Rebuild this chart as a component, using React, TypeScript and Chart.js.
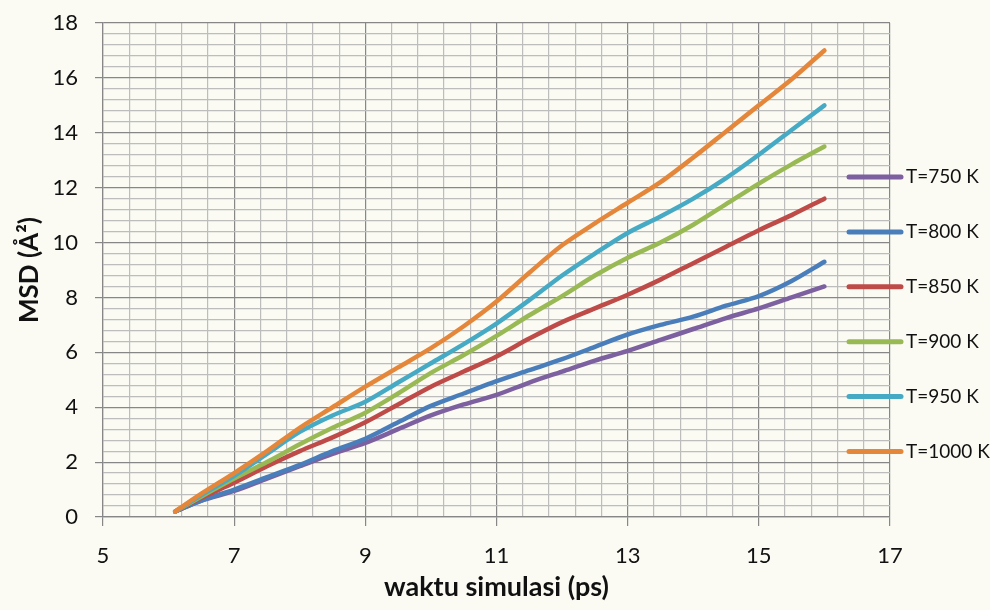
import React, { useEffect, useRef } from "react";
import { Chart, registerables } from "chart.js";

Chart.register(...registerables);

const times = [6.1, 6.5, 7, 7.5, 8, 8.5, 9, 9.5, 10, 10.5, 11, 11.5, 12, 12.5, 13, 13.5, 14, 14.5, 15, 15.5, 16];

const seriesLabels = ["T=750 K", "T=800 K", "T=850 K", "T=900 K", "T=950 K", "T=1000 K"];
const seriesColors = ["#7d60a0", "#4a7ebb", "#be4b48", "#98b954", "#46aac5", "#e5873a"];

const msd750 = [0.2, 0.6, 0.95, 1.4, 1.85, 2.3, 2.7, 3.2, 3.7, 4.1, 4.45, 4.9, 5.3, 5.7, 6.05, 6.45, 6.85, 7.25, 7.6, 8.0, 8.4];
const msd800 = [0.2, 0.6, 1.0, 1.45, 1.9, 2.4, 2.85, 3.45, 4.05, 4.5, 4.95, 5.35, 5.75, 6.2, 6.65, 7.0, 7.3, 7.7, 8.05, 8.6, 9.3];
const msd850 = [0.2, 0.7, 1.25, 1.85, 2.4, 2.9, 3.45, 4.1, 4.75, 5.3, 5.85, 6.5, 7.1, 7.6, 8.1, 8.65, 9.25, 9.85, 10.45, 11.0, 11.6];
const msd900 = [0.2, 0.75, 1.4, 2.0, 2.65, 3.25, 3.8, 4.5, 5.25, 5.9, 6.6, 7.35, 8.05, 8.8, 9.45, 10.0, 10.65, 11.4, 12.15, 12.85, 13.5];
const msd950 = [0.2, 0.8, 1.5, 2.3, 3.1, 3.7, 4.2, 4.9, 5.6, 6.3, 7.05, 7.9, 8.8, 9.6, 10.35, 10.95, 11.6, 12.35, 13.2, 14.1, 15.0];
const msd1000 = [0.2, 0.85, 1.6, 2.4, 3.25, 4.0, 4.75, 5.45, 6.15, 6.95, 7.85, 8.9, 9.9, 10.7, 11.45, 12.2, 13.1, 14.05, 15.0, 15.95, 17.0];

const xTickLabels = ["5", "7", "9", "11", "13", "15", "17"];
const yTickLabels = ["0", "2", "4", "6", "8", "10", "12", "14", "16", "18"];

const allSeries = [msd750, msd800, msd850, msd900, msd950, msd1000];

const FONT = "Lato, 'Open Sans', sans-serif";
const MAJOR = "#878787";
const MINOR = "#bdbdbd";
const TEXT = "#111111";

const isMajor = (v: number, base: number) => {
  const r = (v - base) / 2;
  return Math.abs(r - Math.round(r)) < 1e-6;
};

const bgPlugin = {
  id: "bg",
  beforeDraw(chart: any) {
    const ctx = chart.ctx;
    ctx.save();
    ctx.fillStyle = "#fbfbf4";
    ctx.fillRect(0, 0, chart.width, chart.height);
    ctx.restore();
  },
};

const legendPlugin = {
  id: "customLegend",
  afterDraw(chart: any) {
    const ctx = chart.ctx;
    ctx.save();
    chart.data.datasets.forEach((ds: any, i: number) => {
      const y = 177 + i * 54.9;
      ctx.strokeStyle = ds.borderColor;
      ctx.lineWidth = 5;
      ctx.lineCap = "round";
      ctx.beginPath();
      ctx.moveTo(849, y);
      ctx.lineTo(901, y);
      ctx.stroke();
      ctx.fillStyle = TEXT;
      ctx.font = `19px ${FONT}`;
      ctx.textBaseline = "middle";
      ctx.textAlign = "left";
      ctx.fillText(ds.label, 906, y);
    });
    ctx.restore();
  },
};

export default function App() {
  const ref = useRef<HTMLCanvasElement | null>(null);
  useEffect(() => {
    if (!ref.current) return;
    const chart = new Chart(ref.current, {
      type: "line",
      data: {
        datasets: allSeries.map((vals, i) => ({
          label: seriesLabels[i],
          data: times.map((t, j) => ({ x: t, y: vals[j] })),
          borderColor: seriesColors[i],
          backgroundColor: seriesColors[i],
          borderWidth: 4.5,
          borderCapStyle: "round",
          borderJoinStyle: "round",
          pointRadius: 0,
          tension: 0.3,
          order: allSeries.length - 1 - i,
        })),
      },
      options: {
        animation: false,
        responsive: false,
        layout: { padding: { left: 0, top: 23, right: 100, bottom: 0 } },
        plugins: { legend: { display: false }, tooltip: { enabled: false } },
        scales: {
          x: {
            type: "linear",
            min: 5,
            max: 17,
            afterFit(scale: any) {
              scale.height = 93;
            },
            ticks: {
              stepSize: 0.4,
              autoSkip: false,
              maxRotation: 0,
              padding: 17,
              color: TEXT,
              font: { family: FONT, size: 22 },
              callback: (v: any) => {
                const n = Number(v);
                if (!isMajor(n, 5)) return "";
                const s = String(Math.round(n));
                return xTickLabels.includes(s) ? s : "";
              },
            },
            grid: {
              color: (c: any) => (isMajor(c.tick.value, 5) ? MAJOR : MINOR),
              tickColor: (c: any) => (isMajor(c.tick.value, 5) ? MAJOR : "rgba(0,0,0,0)"),
              tickLength: 9,
              lineWidth: 1.2,
            },
            border: { color: MAJOR, width: 1.2 },
            title: {
              display: true,
              text: "waktu simulasi (ps)",
              color: TEXT,
              font: { family: FONT, size: 27, weight: "bold" },
              padding: { top: 0, bottom: 7 },
            },
          },
          y: {
            type: "linear",
            min: 0,
            max: 18,
            afterFit(scale: any) {
              scale.width = 103;
            },
            ticks: {
              stepSize: 0.4,
              autoSkip: false,
              padding: 17,
              color: TEXT,
              font: { family: FONT, size: 22, lineHeight: 0.5 },
              callback: (v: any) => {
                const n = Number(v);
                if (!isMajor(n, 0)) return "";
                const s = String(Math.round(n));
                return yTickLabels.includes(s) ? s : "";
              },
            },
            grid: {
              color: (c: any) => (isMajor(c.tick.value, 0) ? MAJOR : MINOR),
              tickColor: (c: any) => (isMajor(c.tick.value, 0) ? MAJOR : "rgba(0,0,0,0)"),
              tickLength: 8,
              lineWidth: 1.2,
            },
            border: { color: MAJOR, width: 1.2 },
            title: {
              display: true,
              text: "MSD (Å²)",
              color: TEXT,
              font: { family: FONT, size: 26, weight: "bold" },
              padding: { top: 14, bottom: 0 },
            },
          },
        },
      },
      plugins: [bgPlugin, legendPlugin],
    } as any);
    return () => chart.destroy();
  }, []);
  return (
    <div style={{ position: "absolute", left: 0, top: 0, width: 990, height: 610 }}>
      <canvas ref={ref} width={990} height={610} style={{ width: 990, height: 610, display: "block" }} />
    </div>
  );
}
